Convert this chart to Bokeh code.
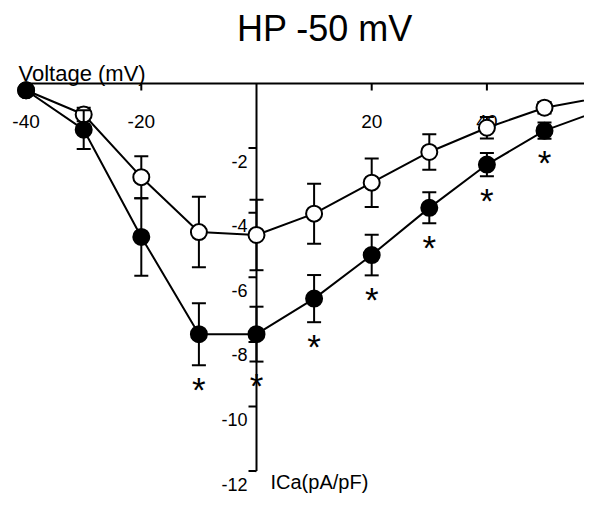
from bokeh.plotting import figure
from bokeh.models import Range1d
from bokeh.embed import file_html
from bokeh.resources import INLINE
from bokeh.core.properties import value

# ---- data ----
voltage = [-40, -30, -20, -10, 0, 10, 20, 30, 40, 50, 60]
ica_open = [-0.21, -0.96, -2.90, -4.60, -4.69, -4.03, -3.07, -2.12, -1.37, -0.75, -0.42]
sem_open = [0.0, 0.21, 0.65, 1.09, 1.09, 0.93, 0.75, 0.55, 0.33, 0.18, 0.15]
ica_filled = [-0.21, -1.43, -4.75, -7.76, -7.76, -6.66, -5.31, -3.85, -2.51, -1.46, -0.81]
sem_filled = [0.0, 0.60, 1.20, 0.96, 0.85, 0.73, 0.63, 0.48, 0.36, 0.25, 0.20]
significant = [False, False, False, True, True, True, True, True, True, True, True]

x_ticks = [-40, -20, 20, 40]
x_tick_labels = ["-40", "-20", "20", "40"]
y_ticks = [-2, -4, -6, -8, -10, -12]
y_tick_labels = ["-2", "-4", "-6", "-8", "-10", "-12"]
x_axis_span = [-40, 60]
y_axis_span = [0, -12]

title_text = "HP -50 mV"
x_label_text = "Voltage (mV)"
y_label_text = "ICa(pA/pF)"

FONT = "Liberation Sans"
W, H = 584, 495

# pixel geometry of the drawing (origin of the axes and scale per unit)
X0, SX = 256.0, 5.76
Y0, SY = 83.0, 32.3


def dx(px):
    return (px - X0) / SX


def dy(px):
    return -(px - Y0) / SY


p = figure(width=W, height=H,
           x_range=Range1d(dx(0), dx(W)), y_range=Range1d(dy(H), dy(0)),
           output_backend="svg", toolbar_location=None,
           x_axis_location=None, y_axis_location=None,
           min_border=0, outline_line_color=None,
           background_fill_color="white", border_fill_color="white")
p.grid.visible = False

# ---- axes drawn through the origin ----
p.segment(x0=[x_axis_span[0]], y0=[0], x1=[x_axis_span[1]], y1=[0], line_color="black", line_width=2)
p.segment(x0=[0], y0=[y_axis_span[0]], x1=[0], y1=[y_axis_span[1]], line_color="black", line_width=2)
p.segment(x0=x_ticks, y0=[0] * len(x_ticks), x1=x_ticks, y1=[-7 / SY] * len(x_ticks),
          line_color="black", line_width=2)
p.segment(x0=[0] * len(y_ticks), y0=y_ticks, x1=[-8 / SX] * len(y_ticks), y1=y_ticks,
          line_color="black", line_width=2)
p.text(x=x_ticks, y=[-38 / SY] * len(x_ticks), text=x_tick_labels,
       text_font=value(FONT), text_font_size="19px", text_align="center",
       text_baseline="middle", text_color="black")
p.text(x=[0] * len(y_ticks), y=[t - 13 / SY for t in y_ticks], text=y_tick_labels,
       x_offset=-9, text_font=value(FONT), text_font_size="18px", text_align="right",
       text_baseline="middle", text_color="black")


def draw_series(vals, errs, fill):
    p.line(voltage, vals, line_color="black", line_width=2)
    xs = [v for v, e in zip(voltage, errs) if e > 0]
    lo = [m - e for m, e in zip(vals, errs) if e > 0]
    hi = [m + e for m, e in zip(vals, errs) if e > 0]
    p.segment(x0=xs, y0=lo, x1=xs, y1=hi, line_color="black", line_width=2)
    p.scatter(xs + xs, lo + hi, marker="dash", size=14, line_color="black", line_width=2)
    p.scatter(voltage, vals, marker="circle", size=16, fill_color=fill,
              line_color="black", line_width=2)


draw_series(ica_open, sem_open, "white")
draw_series(ica_filled, sem_filled, "black")

# significance stars under the filled series (only those inside the view)
xmax = dx(W)
sx = [v for v, s in zip(voltage, significant) if s and v < xmax]
sy = [m - e - 24 / SY for v, m, e, s in zip(voltage, ica_filled, sem_filled, significant)
      if s and v < xmax]
p.text(x=sx, y=sy, text=["*"] * len(sx), text_font=value(FONT), text_font_size="35px",
       text_align="center", text_baseline="middle", text_color="black")

# title and axis labels
p.text(x=[dx(324.5)], y=[dy(28)], text=[title_text], text_font=value(FONT),
       text_font_size="36px", text_align="center", text_baseline="middle", text_color="black")
p.text(x=[dx(18)], y=[dy(73)], text=[x_label_text], text_font=value(FONT),
       text_font_size="22px", text_align="left", text_baseline="middle", text_color="black")
p.text(x=[dx(270)], y=[dy(481)], text=[y_label_text], text_font=value(FONT),
       text_font_size="20px", text_align="left", text_baseline="middle", text_color="black")

open("out.html", "w").write(file_html(p, INLINE))
